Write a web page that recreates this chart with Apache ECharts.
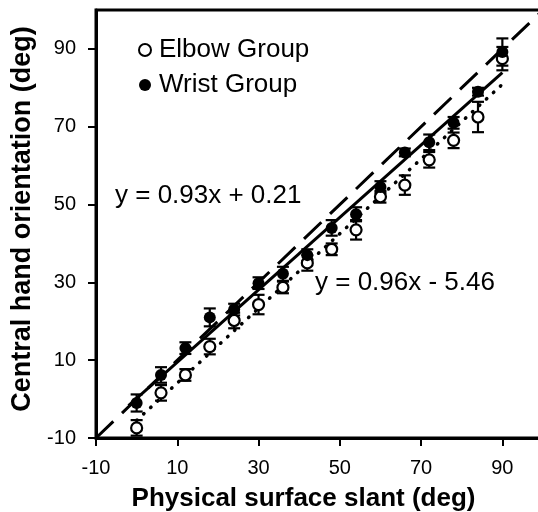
<!DOCTYPE html>
<html>
<head>
<meta charset="utf-8">
<script src="https://cdn.jsdelivr.net/npm/echarts@6/dist/echarts.min.js"></script>
<style>
html,body{margin:0;padding:0;background:#fff;}
#chart{width:538px;height:512px;}
</style>
</head>
<body>
<div id="chart"></div>
<script>
// ---- data ----
const slant = [0, 6, 12, 18, 24, 30, 36, 42, 48, 54, 60, 66, 72, 78, 84, 90];
const elbowMean = [-7.4, 1.6, 6.2, 13.5, 20.2, 24.3, 28.7, 35.0, 38.5, 43.5, 52.0, 55.0, 61.5, 66.5, 72.5, 87.5];
const elbowErr  = [2.0, 2.0, 1.5, 2.0, 2.0, 2.5, 1.5, 2.0, 1.5, 2.5, 1.5, 2.5, 2.0, 2.0, 3.9, 3.0];
const wristMean = [-1.0, 6.2, 13.1, 21.0, 23.0, 29.8, 32.2, 37.0, 44.0, 47.5, 54.5, 63.4, 66.0, 71.0, 79.0, 89.2];
const wristErr  = [2.2, 2.0, 1.5, 2.3, 1.5, 1.5, 1.8, 1.5, 2.0, 1.8, 1.5, 1.0, 2.0, 1.5, 1.0, 3.5];
// fitted lines (endpoints) and identity line
const wristFitX = [-2, 90];
const wristFitY = [-1.65, 83.9];
const elbowFitX = [0, 90];
const elbowFitY = [-5.46, 80.9];
const identityX = [-10, 100];
const identityY = [-10, 100];
const xTicks = [-10, 10, 30, 50, 70, 90];
const yTicks = [-10, 10, 30, 50, 70, 90];
const eqWrist = 'y = 0.93x + 0.21';
const eqElbow = 'y = 0.96x - 5.46';

const pairs = (xs, ys) => xs.map((x, i) => [x, ys[i]]);
const errData = (means, errs) => slant.map((x, i) => [x, means[i] - errs[i], means[i] + errs[i]]);

function errorBar(params, api) {
  const x = api.value(0);
  const lo = api.coord([x, api.value(1)]);
  const hi = api.coord([x, api.value(2)]);
  const hw = 6;
  const st = {stroke: '#000', lineWidth: 2.2};
  return {
    type: 'group',
    children: [
      {type: 'line', shape: {x1: lo[0], y1: lo[1], x2: hi[0], y2: hi[1]}, style: st},
      {type: 'line', shape: {x1: lo[0] - hw, y1: lo[1], x2: lo[0] + hw, y2: lo[1]}, style: st},
      {type: 'line', shape: {x1: hi[0] - hw, y1: hi[1], x2: hi[0] + hw, y2: hi[1]}, style: st}
    ]
  };
}

const font = '"Liberation Sans", Arial, sans-serif';
const chart = echarts.init(document.getElementById('chart'), null, {renderer: 'canvas'});
chart.setOption({
  animation: false,
  backgroundColor: '#fff',
  grid: {left: 96, top: 10, right: -5, bottom: 74, containLabel: false, outerBoundsMode: 'none',
         show: true, borderColor: '#000', borderWidth: 3, backgroundColor: 'transparent'},
  legend: {
    orient: 'vertical', left: 133, top: 32, itemGap: 9,
    icon: 'circle', itemWidth: 12, itemHeight: 12,
    textStyle: {fontFamily: font, fontSize: 26, color: '#000', padding: [0, 0, 0, 3]},
    data: ['Elbow Group', 'Wrist Group']
  },
  xAxis: {
    type: 'value', min: -10, max: 100, interval: 20,
    name: 'Physical surface slant (deg)', nameLocation: 'middle', nameGap: 48,
    nameTextStyle: {fontFamily: font, fontSize: 26, fontWeight: 'bold', color: '#000', padding: [0, 32, 0, 0]},
    axisLine: {onZero: false, lineStyle: {color: '#000', width: 3}},
    axisTick: {length: 8, lineStyle: {color: '#000', width: 2}, customValues: xTicks},
    axisLabel: {fontFamily: font, fontSize: 20, color: '#000', margin: 20, customValues: xTicks},
    splitLine: {show: false}
  },
  yAxis: {
    type: 'value', min: -10, max: 100, interval: 20,
    name: 'Central hand orientation (deg)', nameLocation: 'middle', nameGap: 56, nameRotate: 90,
    nameTextStyle: {fontFamily: font, fontSize: 27, fontWeight: 'bold', color: '#000', padding: [0, 0, 0, 10]},
    axisLine: {onZero: false, lineStyle: {color: '#000', width: 3}},
    axisTick: {length: 8, lineStyle: {color: '#000', width: 2}, customValues: yTicks},
    axisLabel: {fontFamily: font, fontSize: 20, color: '#000', margin: 20, customValues: yTicks},
    splitLine: {show: false}
  },
  graphic: [
    {type: 'text', left: 115, top: 183, style: {text: eqWrist, font: '26px "Liberation Sans", Arial, sans-serif', fill: '#000'}},
    {type: 'text', left: 315, top: 270, style: {text: eqElbow, font: '26px "Liberation Sans", Arial, sans-serif', fill: '#000'}}
  ],
  series: [
    {type: 'line', data: pairs(identityX, identityY), symbol: 'none', silent: true, z: 1,
     lineStyle: {color: '#000', width: 3, type: [24, 12]}},
    {type: 'line', data: pairs(wristFitX, wristFitY), symbol: 'none', silent: true, z: 1,
     lineStyle: {color: '#000', width: 3}},
    {type: 'line', data: pairs(elbowFitX, elbowFitY), symbol: 'none', silent: true, z: 1,
     lineStyle: {color: '#000', width: 3.5, type: [0.5, 9], cap: 'round'}},
    {type: 'custom', renderItem: errorBar, data: errData(elbowMean, elbowErr), z: 2, silent: true},
    {type: 'custom', renderItem: errorBar, data: errData(wristMean, wristErr), z: 2, silent: true},
    {name: 'Elbow Group', type: 'scatter', data: pairs(slant, elbowMean), symbol: 'circle', symbolSize: 11, z: 3,
     itemStyle: {color: '#fff', borderColor: '#000', borderWidth: 2.2, opacity: 1}},
    {name: 'Wrist Group', type: 'scatter', data: pairs(slant, wristMean), symbol: 'circle', symbolSize: 12, z: 4,
     itemStyle: {color: '#000', borderColor: '#000', borderWidth: 0, opacity: 1}}
  ]
});
</script>
</body>
</html>
